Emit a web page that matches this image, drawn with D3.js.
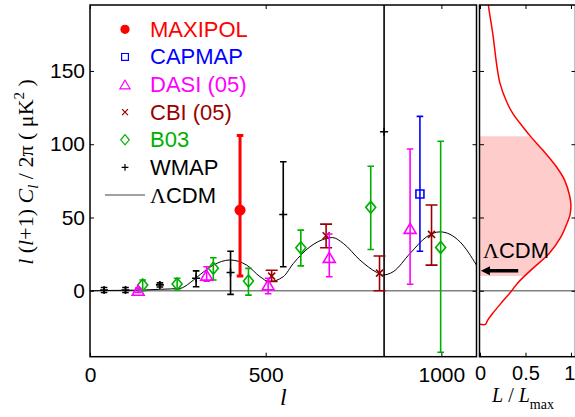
<!DOCTYPE html>
<html>
<head>
<meta charset="utf-8">
<script src="https://cdn.jsdelivr.net/npm/d3@7"></script>
<style>
  body { margin: 0; background: #fff; }
  svg { display: block; }
</style>
</head>
<body>
<script>
// band powers: multipole, value, lower / upper end of the error bar (uK^2)
const maxipolL = [427], maxipolV = [55], maxipolLo = [10], maxipolHi = [106];
const capmapL = [939], capmapV = [66], capmapLo = [27], capmapHi = [119];
const dasiL = [137, 332, 507, 681, 911];
const dasiV = [0.3, 10.7, 4, 22.8, 42.6];
const dasiLo = [-1.2, 6.6, -2, 9.6, 4.4];
const dasiHi = [1.8, 16.4, 8.5, 38.7, 96.7];
const cbiL = [517, 672, 824, 972];
const cbiV = [10, 37.5, 12, 38.5];
const cbiLo = [6.4, 29.3, 0, 17.5];
const cbiHi = [14, 45.5, 23.7, 58.5];
const b03L = [150, 248, 351, 451, 600, 799, 998];
const b03V = [4, 4.6, 15.3, 6.6, 29.3, 56.9, 29.6];
const b03Lo = [0, 0.5, 7.3, -3, 17, 28.2, -42];
const b03Hi = [7.3, 8.5, 22.5, 15.3, 41.4, 85, 102];
const wmapL = [40, 101, 199, 302, 400, 550, 837];
const wmapV = [0.5, 0.5, 4, 8.5, 12.5, 52, 108.5];
const wmapLo = [-1.2, -1.2, 2.6, 2.7, -2.5, 16.4, -300];
const wmapHi = [2.2, 2.2, 5.4, 13.6, 27, 88, 400];

// LCDM model curve
const lcdmL = [2, 50, 100, 150, 200, 256, 285, 303, 351, 398, 446, 484, 510, 550, 579, 626, 673, 690, 721, 768, 816, 832, 863, 911, 958, 996, 1053, 1100];
const lcdmV = [0, 0.2, 0.3, 0.5, 1.0, 1.6, 5.5, 9, 17.5, 21, 17.5, 9.6, 6.2, 9.6, 18.7, 30, 35.7, 36.3, 32.3, 21, 12.5, 10.7, 13, 25.5, 36.8, 40.2, 33.4, 17.5];

// MAXIPOL likelihood of the band amplitude (right panel)
const likeV = [198, 193.7, 175.6, 152.8, 141.5, 130, 121, 111.9, 105, 96, 84.6, 75.5, 65, 58, 52, 45, 36.8, 25.5, 14.1, 5, -0.7, -8.6, -15.4, -20, -22.9, -22.9];
const likeL = [0.09, 0.095, 0.14, 0.187, 0.22, 0.286, 0.36, 0.47, 0.56, 0.69, 0.84, 0.93, 0.985, 1.0, 0.99, 0.95, 0.89, 0.76, 0.56, 0.41, 0.34, 0.23, 0.14, 0.085, 0.06, 0];
const likeRange = [10, 105.5];   // shaded 68% interval
const lcdmAmp = 13.6;            // model prediction, arrow

const yTicks = [0, 50, 100, 150];
const xTicks = [0, 500, 1000];
const rTicks = [0, 0.5, 1];

const W = 575, H = 417;
const sans = "'Liberation Sans', Arial, sans-serif";
const serif = "'Liberation Serif', 'Times New Roman', serif";

const x = d3.scaleLinear().domain([0, 1100]).range([90, 476.5]);
const y = d3.scaleLinear().domain([-45, 195]).range([356.7, 5]);
const xr = d3.scaleLinear().domain([0, 1.05]).range([480, 575.5]);

const svg = d3.select("body").append("svg")
    .attr("width", W).attr("height", H)
    .style("font-family", sans);

const defs = svg.append("defs");
defs.append("clipPath").attr("id", "clipMain").append("rect")
    .attr("x", x(0)).attr("y", y(195))
    .attr("width", x(1100) - x(0)).attr("height", y(-45) - y(195));
defs.append("clipPath").attr("id", "clipRight").append("rect")
    .attr("x", xr(0)).attr("y", y(195))
    .attr("width", xr(1.05) - xr(0)).attr("height", y(-45) - y(195));
defs.append("clipPath").attr("id", "clipShade").append("rect")
    .attr("x", xr(0)).attr("y", y(likeRange[1]))
    .attr("width", xr(1.05) - xr(0)).attr("height", y(likeRange[0]) - y(likeRange[1]));

function marker(kind, w, h) {
    switch (kind) {
        case "square": return `M${-w/2},${-h/2}h${w}v${h}h${-w}Z`;
        case "triangle": return `M0,${-h/2}L${w/2},${h/2}L${-w/2},${h/2}Z`;
        case "diamond": return `M0,${-h/2}L${w/2},0L0,${h/2}L${-w/2},0Z`;
        case "x": return `M${-w/2},${-h/2}L${w/2},${h/2}M${w/2},${-h/2}L${-w/2},${h/2}`;
        case "plus": return `M${-w/2},0H${w/2}M0,${-h/2}V${h/2}`;
        case "circle": return d3.symbol(d3.symbolCircle, Math.PI * (w/2) * (w/2))();
    }
}

const series = [
    {name: "MAXIPOL", color: "#ff0000", kind: "circle", w: 9.5, h: 9.5, fill: true, cap: 3.3, lw: 3,
     l: maxipolL, v: maxipolV, lo: maxipolLo, hi: maxipolHi},
    {name: "CAPMAP", color: "#0000ff", kind: "square", w: 8, h: 8, cap: 3.3, lw: 1.6,
     l: capmapL, v: capmapV, lo: capmapLo, hi: capmapHi},
    {name: "DASI (05)", color: "#ff00ff", kind: "triangle", w: 12, h: 10, cap: 3.3, lw: 1.6,
     l: dasiL, v: dasiV, lo: dasiLo, hi: dasiHi},
    {name: "CBI (05)", color: "#990000", kind: "x", w: 7, h: 7, cap: 6, lw: 1.6,
     l: cbiL, v: cbiV, lo: cbiLo, hi: cbiHi},
    {name: "B03", color: "#00b000", kind: "diamond", w: 10, h: 12, cap: 3.3, lw: 1.6,
     l: b03L, v: b03V, lo: b03Lo, hi: b03Hi},
    {name: "WMAP", color: "#000000", kind: "plus", w: 8, h: 8, cap: 3.3, lw: 1.6,
     l: wmapL, v: wmapV, lo: wmapLo, hi: wmapHi}
];

// ---------- main panel ----------
const main = svg.append("g");

main.append("line")
    .attr("x1", x(0)).attr("x2", x(1100))
    .attr("y1", y(0)).attr("y2", y(0))
    .attr("stroke", "#808080").attr("stroke-width", 1.5);

main.append("path")
    .datum(lcdmL.map((l, i) => [l, lcdmV[i]]))
    .attr("clip-path", "url(#clipMain)")
    .attr("fill", "none").attr("stroke", "#000").attr("stroke-width", 1)
    .attr("d", d3.line().x(d => x(d[0])).y(d => y(d[1])).curve(d3.curveMonotoneX));

const pts = main.append("g").attr("clip-path", "url(#clipMain)");
// draw the wide ones first so small markers stay on top
[4, 5, 3, 2, 1, 0].forEach(si => {
    const s = series[si];
    const g = pts.append("g").attr("stroke", s.color).attr("stroke-width", s.lw).attr("fill", "none");
    s.l.forEach((l, i) => {
        const cx = x(l);
        g.append("path")
            .attr("d", `M${cx},${y(s.lo[i])}V${y(s.hi[i])}` +
                       `M${cx - s.cap},${y(s.lo[i])}H${cx + s.cap}` +
                       `M${cx - s.cap},${y(s.hi[i])}H${cx + s.cap}`);
        g.append("path")
            .attr("transform", `translate(${cx},${y(s.v[i])})`)
            .attr("d", marker(s.kind, s.w, s.h))
            .attr("stroke-width", 1.6)
            .attr("fill", s.fill ? s.color : "none")
            .attr("stroke", s.color);
    });
});

// axes of the main panel, ticks pointing inward
main.append("g").attr("transform", `translate(0,${y(-45)})`)
    .call(d3.axisBottom(x).tickValues(xTicks).tickSize(-4).tickPadding(10).tickFormat(d3.format("d")));
main.append("g").attr("transform", `translate(0,${y(195)})`)
    .call(d3.axisTop(x).tickValues(xTicks).tickSize(-4).tickFormat(""));
main.append("g").attr("transform", `translate(${x(0)},0)`)
    .call(d3.axisLeft(y).tickValues(yTicks).tickSize(-4).tickPadding(5));
main.append("g").attr("transform", `translate(${x(1100)},0)`)
    .call(d3.axisRight(y).tickValues(yTicks).tickSize(-4).tickFormat(""));

main.append("rect")
    .attr("x", x(0)).attr("y", y(195))
    .attr("width", x(1100) - x(0)).attr("height", y(-45) - y(195))
    .attr("fill", "none").attr("stroke", "#000").attr("stroke-width", 1.5);

// ---------- right panel ----------
const right = svg.append("g");
const likeData = likeL.map((L, i) => [L, likeV[i]]);

right.append("path")
    .datum(likeData)
    .attr("clip-path", "url(#clipShade)")
    .attr("fill", "#ffcccc")
    .attr("d", d3.area().y(d => y(d[1])).x0(xr(0)).x1(d => xr(d[0])).curve(d3.curveCatmullRom));

right.append("line")
    .attr("x1", xr(0)).attr("x2", xr(1.05))
    .attr("y1", y(0)).attr("y2", y(0))
    .attr("stroke", "#808080").attr("stroke-width", 1.5);

right.append("path")
    .datum(likeData)
    .attr("clip-path", "url(#clipRight)")
    .attr("fill", "none").attr("stroke", "#ff0000").attr("stroke-width", 1.5)
    .attr("d", d3.line().x(d => xr(d[0])).y(d => y(d[1])).curve(d3.curveCatmullRom));

const lab = right.append("text")
    .attr("x", 483).attr("y", 258)
    .attr("font-size", 22);
lab.append("tspan").attr("font-family", serif).text("Λ");
lab.append("tspan").text("CDM");

right.append("line")
    .attr("x1", xr(0.42)).attr("x2", xr(0.07))
    .attr("y1", y(lcdmAmp)).attr("y2", y(lcdmAmp))
    .attr("stroke", "#000").attr("stroke-width", 3.5);
right.append("path")
    .attr("d", `M${xr(0.01)},${y(lcdmAmp)}l9,-4.5v9Z`)
    .attr("fill", "#000");

const rAxis = right.append("g").attr("transform", `translate(0,${y(-45)})`)
    .call(d3.axisBottom(xr).tickValues(rTicks).tickSize(-4).tickPadding(9).tickFormat(d3.format("~g")));
right.append("g").attr("transform", `translate(0,${y(195)})`)
    .call(d3.axisTop(xr).tickValues(rTicks).tickSize(-4).tickFormat(""));
right.append("g").attr("transform", `translate(${xr(0)},0)`)
    .call(d3.axisLeft(y).tickValues(yTicks).tickSize(-4).tickFormat(""));
right.append("g").attr("transform", `translate(${xr(1.05)},0)`)
    .call(d3.axisRight(y).tickValues(yTicks).tickSize(-4).tickFormat(""));

right.append("rect")
    .attr("x", 479.5).attr("y", y(195))
    .attr("width", xr(1.05) - 479.5).attr("height", y(-45) - y(195))
    .attr("fill", "none").attr("stroke", "#000").attr("stroke-width", 1.5);

// axis styling
svg.selectAll(".domain").remove();
svg.selectAll(".tick line").attr("stroke", "#000").attr("stroke-width", 1);
svg.selectAll(".tick text").attr("font-size", 21).attr("font-family", sans).attr("fill", "#000");
// keep the last label of the narrow panel inside the picture
rAxis.selectAll(".tick text").attr("font-size", 20)
    .filter(d => d === 1).attr("text-anchor", "end").attr("dx", 4);

// ---------- legend ----------
const legend = svg.append("g");
const rowY = d3.scaleLinear().domain([0, 6]).range([29.3, 195]);
series.forEach((s, i) => {
    const cy = rowY(i);
    legend.append("path")
        .attr("transform", `translate(125,${cy})`)
        .attr("d", marker(s.kind, s.w * 0.85, s.h * 0.85))
        .attr("stroke", s.color).attr("stroke-width", 1.2)
        .attr("fill", s.fill ? s.color : "none");
    legend.append("text")
        .attr("x", 150).attr("y", cy + 7.5)
        .attr("font-size", 22).attr("fill", s.color)
        .text(s.name);
});
legend.append("line")
    .attr("x1", 105).attr("x2", 145)
    .attr("y1", rowY(6)).attr("y2", rowY(6))
    .attr("stroke", "#444").attr("stroke-width", 1.2);
const lt = legend.append("text").attr("x", 150).attr("y", rowY(6) + 7.5).attr("font-size", 22);
lt.append("tspan").attr("font-family", serif).text("Λ");
lt.append("tspan").text("CDM");

// ---------- axis titles ----------
const yl = svg.append("text")
    .attr("transform", "translate(33,172) rotate(-90)")
    .attr("text-anchor", "middle")
    .attr("font-family", serif).attr("font-size", 22);
yl.append("tspan").attr("font-style", "italic").text("l");
yl.append("tspan").text(" (");
yl.append("tspan").attr("font-style", "italic").text("l");
yl.append("tspan").text("+1) ");
yl.append("tspan").attr("font-style", "italic").text("C");
yl.append("tspan").attr("font-style", "italic").attr("font-size", 15).attr("dy", 5).text("l");
yl.append("tspan").attr("dy", -5).text(" / 2π  ( μK");
yl.append("tspan").attr("font-size", 15).attr("dy", -9).text("2");
yl.append("tspan").attr("dy", 9).text(" )");

svg.append("text")
    .attr("x", (x(0) + x(1100)) / 2).attr("y", 405)
    .attr("text-anchor", "middle")
    .attr("font-family", serif).attr("font-style", "italic").attr("font-size", 24)
    .text("l");

const rl = svg.append("text")
    .attr("x", 492).attr("y", 402)
    .attr("font-family", serif).attr("font-size", 20);
rl.append("tspan").attr("font-style", "italic").text("L");
rl.append("tspan").attr("dx", 5).text("/");
rl.append("tspan").attr("dx", 5).attr("font-style", "italic").text("L");
rl.append("tspan").attr("font-size", 14).attr("dy", 7).text("max");
</script>
</body>
</html>
